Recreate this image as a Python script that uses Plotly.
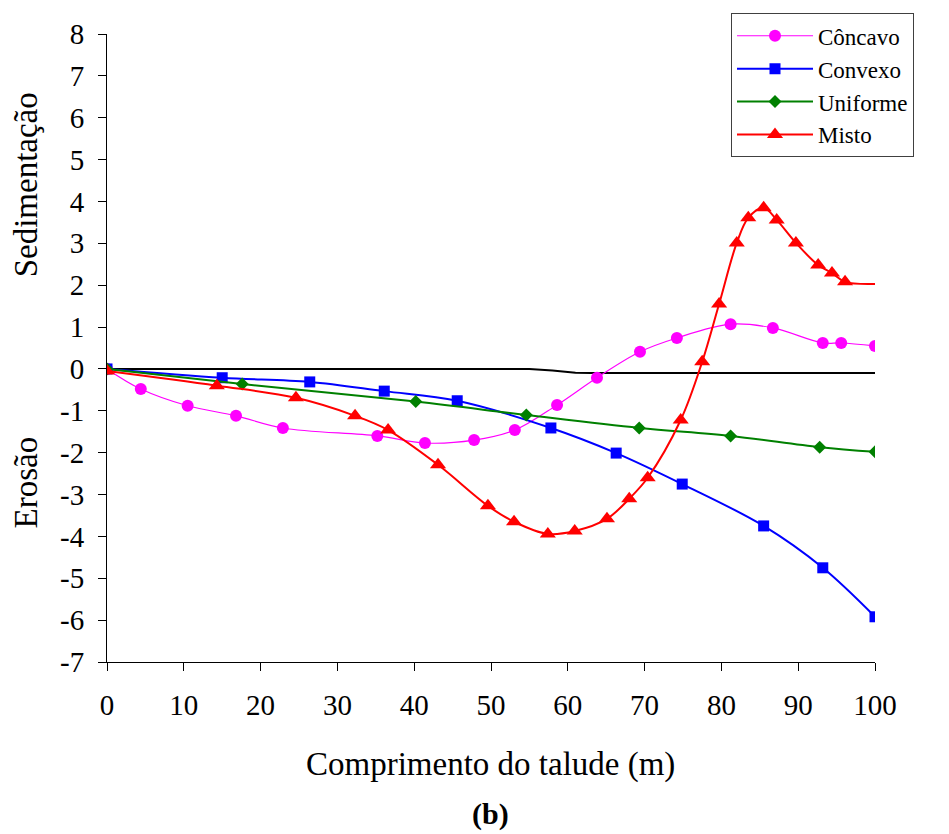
import plotly.graph_objects as go

# Data
concavo_x = [0, 4.4, 10.5, 16.8, 22.9, 35.2, 41.4, 47.8, 53.1, 58.6, 63.8, 69.4, 74.2, 81.2, 86.7, 93.2, 95.6, 100]
concavo_y = [0, -0.48, -0.88, -1.12, -1.41, -1.60, -1.77, -1.70, -1.46, -0.86, -0.21, 0.41, 0.74, 1.07, 0.98, 0.62, 0.62, 0.55]

convexo_x = [0, 15.0, 26.4, 36.1, 45.6, 57.8, 66.3, 74.9, 85.5, 93.2, 100]
convexo_y = [0, -0.21, -0.31, -0.53, -0.76, -1.41, -2.01, -2.75, -3.75, -4.75, -5.92]

uniforme_x = [0, 17.6, 40.2, 54.6, 69.3, 81.2, 92.8, 100]
uniforme_y = [0, -0.36, -0.78, -1.10, -1.41, -1.60, -1.87, -1.98]

misto_x = [0, 14.3, 24.6, 32.3, 36.6, 43.1, 49.6, 53.0, 57.4, 60.9, 65.1, 68.0, 70.4,
           74.7, 77.5, 79.7, 82.0, 83.5, 85.5, 87.2, 89.7, 92.6, 94.4, 96.1, 100]
misto_y = [-0.05, -0.40, -0.69, -1.12, -1.46, -2.29, -3.27, -3.65, -3.94, -3.87, -3.58, -3.10, -2.60,
           -1.22, 0.17, 1.55, 3.01, 3.61, 3.85, 3.56, 3.01, 2.48, 2.29, 2.08, 2.03]
misto_has_marker = [True] * 24 + [False]

ref_x = [0, 55, 58, 61, 63, 100]
ref_y = [0, 0, -0.04, -0.09, -0.1, -0.1]

x_ticks = list(range(0, 101, 10))
y_ticks = list(range(-7, 9))
y_ticktext = [str(v) for v in y_ticks]  # hyphen-minus as in reference

FONT = "Liberation Serif"

fig = go.Figure()

fig.add_trace(go.Scatter(x=ref_x, y=ref_y, mode="lines", line=dict(color="black", width=2),
                         showlegend=False, hoverinfo="skip"))

fig.add_trace(go.Scatter(x=concavo_x, y=concavo_y, mode="lines+markers", name="Côncavo",
                         line=dict(color="#FF00FF", width=1.2, shape="spline"),
                         marker=dict(symbol="circle", size=12, color="#FF00FF")))
fig.add_trace(go.Scatter(x=convexo_x, y=convexo_y, mode="lines+markers", name="Convexo",
                         line=dict(color="#0000FF", width=2, shape="spline"),
                         marker=dict(symbol="square", size=11, color="#0000FF")))
fig.add_trace(go.Scatter(x=uniforme_x, y=uniforme_y, mode="lines+markers", name="Uniforme",
                         line=dict(color="#008000", width=2, shape="spline"),
                         marker=dict(symbol="diamond", size=10, color="#008000")))
fig.add_trace(go.Scatter(x=misto_x, y=misto_y, mode="lines+markers", name="Misto",
                         line=dict(color="#FF0000", width=2, shape="spline"),
                         marker=dict(symbol="triangle-up", size=14,
                                     color=["#FF0000" if m else "rgba(0,0,0,0)" for m in misto_has_marker])))

fig.update_layout(
    width=941, height=826,
    margin=dict(l=99, r=74, t=26, b=172, autoexpand=False),
    paper_bgcolor="white", plot_bgcolor="white",
    font=dict(family=FONT, size=29, color="black"),
    xaxis=dict(range=[0, 100], tickvals=x_ticks, ticks="outside", ticklen=8, tickcolor="black",
               showline=True, linecolor="black", linewidth=1, showgrid=False, zeroline=False,
               tickfont=dict(family=FONT, size=29), ticklabelstandoff=9),
    yaxis=dict(range=[-7, 8], tickvals=y_ticks, ticktext=y_ticktext, ticks="outside", ticklen=8,
               tickcolor="black", showline=True, linecolor="black", linewidth=1, showgrid=False,
               zeroline=False, tickfont=dict(family=FONT, size=29), ticklabelstandoff=8),
    legend=dict(x=0.8125, y=1.033, xanchor="left", yanchor="top",
                bordercolor="#404040", borderwidth=1, bgcolor="white",
                font=dict(family=FONT, size=23), tracegroupgap=0, itemwidth=76,
                entrywidth=170, entrywidthmode="pixels"),
    annotations=[
        dict(text="Sedimentação", xref="paper", yref="paper", x=-0.105, y=0.7596, textangle=-90,
             showarrow=False, xanchor="center", yanchor="middle", font=dict(family=FONT, size=33)),
        dict(text="Erosão", xref="paper", yref="paper", x=-0.105, y=0.2866, textangle=-90,
             showarrow=False, xanchor="center", yanchor="middle", font=dict(family=FONT, size=33)),
        dict(text="Comprimento do talude (m)", xref="paper", yref="paper", x=0.4987, y=-0.164,
             showarrow=False, xanchor="center", yanchor="middle", font=dict(family=FONT, size=33)),
        dict(text="<b>(b)</b>", xref="paper", yref="paper", x=0.4987, y=-0.2420,
             showarrow=False, xanchor="center", yanchor="middle", font=dict(family=FONT, size=30)),
    ],
)

fig.write_html("out.html")
